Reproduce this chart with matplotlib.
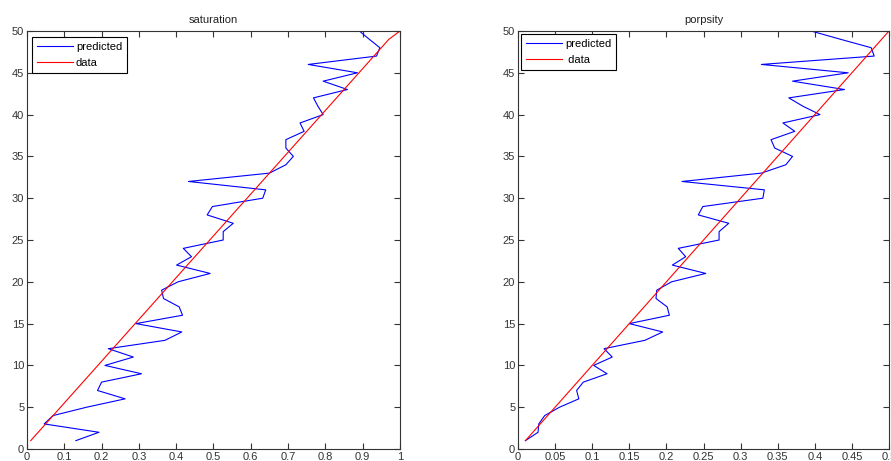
import matplotlib
matplotlib.use("Agg")
import matplotlib.pyplot as plt
import numpy as np

plt.rcParams["font.family"] = ["Liberation Sans", "DejaVu Sans"]

depth = list(range(1, 51))

# saturation panel
sat_pred = [0.131, 0.193, 0.046, 0.070, 0.160, 0.263, 0.189, 0.200, 0.307, 0.209,
            0.285, 0.218, 0.370, 0.415, 0.292, 0.417, 0.408, 0.366, 0.361, 0.405,
            0.491, 0.401, 0.441, 0.419, 0.526, 0.526, 0.553, 0.483, 0.497, 0.632,
            0.640, 0.433, 0.650, 0.694, 0.714, 0.694, 0.694, 0.743, 0.732, 0.794,
            0.780, 0.768, 0.859, 0.794, 0.886, 0.754, 0.937, 0.946, 0.918, 0.891]
sat_data = [0.01, 0.03, 0.05, 0.07, 0.09, 0.11, 0.13, 0.15, 0.17, 0.19,
            0.21, 0.23, 0.25, 0.27, 0.29, 0.31, 0.33, 0.35, 0.37, 0.39,
            0.41, 0.43, 0.45, 0.47, 0.49, 0.51, 0.53, 0.55, 0.57, 0.59,
            0.61, 0.63, 0.65, 0.67, 0.69, 0.71, 0.73, 0.75, 0.77, 0.79,
            0.81, 0.83, 0.85, 0.87, 0.89, 0.91, 0.93, 0.95, 0.97, 1.00]

# porosity panel
por_pred = [0.010, 0.027, 0.028, 0.036, 0.056, 0.082, 0.079, 0.088, 0.120, 0.102,
            0.127, 0.116, 0.171, 0.195, 0.150, 0.204, 0.201, 0.186, 0.187, 0.207,
            0.253, 0.208, 0.226, 0.216, 0.271, 0.271, 0.284, 0.243, 0.249, 0.330,
            0.332, 0.221, 0.328, 0.361, 0.370, 0.346, 0.341, 0.373, 0.357, 0.407,
            0.384, 0.365, 0.440, 0.370, 0.445, 0.328, 0.480, 0.476, 0.435, 0.395]
por_data = [0.01, 0.02, 0.03, 0.04, 0.05, 0.06, 0.07, 0.08, 0.09, 0.10,
            0.11, 0.12, 0.13, 0.14, 0.15, 0.16, 0.17, 0.18, 0.19, 0.20,
            0.21, 0.22, 0.23, 0.24, 0.25, 0.26, 0.27, 0.28, 0.29, 0.30,
            0.31, 0.32, 0.33, 0.34, 0.35, 0.36, 0.37, 0.38, 0.39, 0.40,
            0.41, 0.42, 0.43, 0.44, 0.45, 0.46, 0.47, 0.48, 0.49, 0.50]

sat_ticks = [0, 0.1, 0.2, 0.3, 0.4, 0.5, 0.6, 0.7, 0.8, 0.9, 1]
sat_labels = ["0", "0.1", "0.2", "0.3", "0.4", "0.5", "0.6", "0.7", "0.8", "0.9", "1"]
por_ticks = [0, 0.05, 0.1, 0.15, 0.2, 0.25, 0.3, 0.35, 0.4, 0.45, 0.5]
por_labels = ["0", "0.05", "0.1", "0.15", "0.2", "0.25", "0.3", "0.35", "0.4", "0.45", "0.5"]
y_ticks = [0, 5, 10, 15, 20, 25, 30, 35, 40, 45, 50]

W, H = 891, 461
fig = plt.figure(figsize=(W / 100, H / 100), dpi=100)

def px_axes(x0, x1, ytop, ybot):
    return fig.add_axes([x0 / W, 1 - ybot / H, (x1 - x0) / W, (ybot - ytop) / H])

def style(ax, xmax, ticks, labels, title, leg_names, leg_off):
    ax.set_xlim(0, xmax)
    ax.set_ylim(0, 50)
    ax.set_xticks(ticks)
    ax.set_xticklabels(labels)
    ax.set_yticks(y_ticks)
    ax.tick_params(direction="in", top=True, right=True, length=4, width=0.8,
                   labelsize=8, colors="#333333", pad=2)
    for s in ax.spines.values():
        s.set_color("#333333")
        s.set_linewidth(0.8)
    ax.set_title(title, fontsize=8, color="#222222", pad=6)
    leg = ax.legend(leg_names, loc="upper left", bbox_to_anchor=leg_off,
                    borderaxespad=0, fontsize=8, handlelength=3.2,
                    fancybox=False, framealpha=1, edgecolor="black",
                    borderpad=0.45, labelspacing=0.55, handletextpad=0.3)
    leg.get_frame().set_linewidth(0.8)

ax1 = px_axes(27, 400, 31, 449)
ax1.plot(sat_pred, depth, color="b", lw=0.8)
ax1.plot(sat_data, depth, color="r", lw=0.8)
style(ax1, 1, sat_ticks, sat_labels, "saturation", ["predicted", "data"],
      (5 / 373, 1 - 6 / 418))

ax2 = px_axes(518, 889, 31, 449)
ax2.plot(por_pred, depth, color="b", lw=0.8)
ax2.plot(por_data, depth, color="r", lw=0.8)
style(ax2, 0.5, por_ticks, por_labels, "porpsity", ["predicted", " data"],
      (3 / 371, 1 - 3 / 418))

fig.savefig("out.png", dpi=100)
